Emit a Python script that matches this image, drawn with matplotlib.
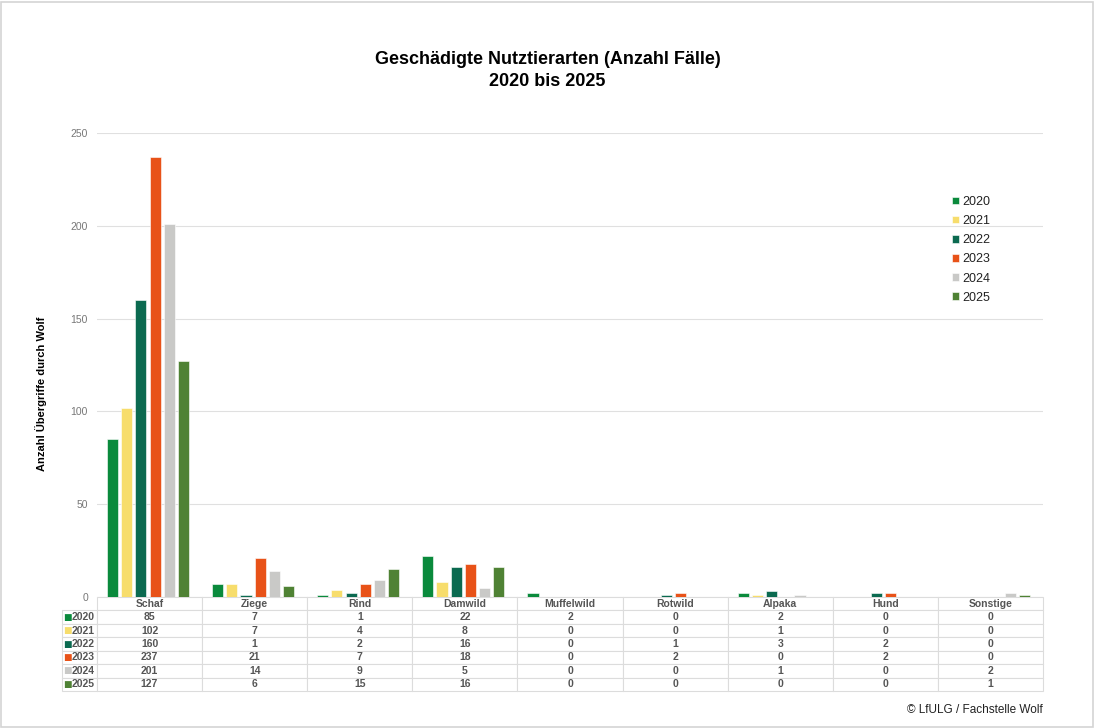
import numpy as np
import matplotlib.pyplot as plt
from matplotlib.patches import Rectangle

plt.rcParams['font.family'] = ['Liberation Sans', 'DejaVu Sans']

categories = ["Schaf", "Ziege", "Rind", "Damwild", "Muffelwild", "Rotwild", "Alpaka", "Hund", "Sonstige"]
years = ["2020", "2021", "2022", "2023", "2024", "2025"]
v2020 = [85, 7, 1, 22, 2, 0, 2, 0, 0]
v2021 = [102, 7, 4, 8, 0, 0, 1, 0, 0]
v2022 = [160, 1, 2, 16, 0, 1, 3, 2, 0]
v2023 = [237, 21, 7, 18, 0, 2, 0, 2, 0]
v2024 = [201, 14, 9, 5, 0, 0, 1, 0, 2]
v2025 = [127, 6, 15, 16, 0, 0, 0, 0, 1]
series = [v2020, v2021, v2022, v2023, v2024, v2025]
colors = ["#0a8a3c", "#f7dd6c", "#0b6a50", "#e85218", "#c9c9c7", "#4f8234"]

W, H = 1095, 728
fig = plt.figure(figsize=(W / 100, H / 100), dpi=100)
fig.patches.append(Rectangle((0.5 / W, 1.5 / H), 1 - 3 / W, 1 - 3 / H, transform=fig.transFigure,
                             fill=False, edgecolor="#d4d4d4", lw=1.2))

left, right, top, bottom = 97, 1043, 133, 597
ax = fig.add_axes([left / W, 1 - bottom / H, (right - left) / W, (bottom - top) / H])

x = np.arange(len(categories))
step = 0.135
bw = 0.106
for i, (yr, vals, c) in enumerate(zip(years, series, colors)):
    ax.bar(x + (i - 2.5) * step - 0.015, vals, width=bw, color=c, edgecolor="white", linewidth=0.4,
           label=yr, zorder=3)

ax.set_xlim(-0.5, len(categories) - 0.5)
ax.set_ylim(0, 250)
ax.set_yticks(range(0, 251, 50))
ax.tick_params(axis="y", length=0, labelsize=7.5, labelcolor="#777777", pad=6.5)
ax.set_xticks([])
ax.grid(axis="y", color="#e0e0e0", lw=0.8, zorder=0)
for s in ax.spines.values():
    s.set_visible(False)

leg = ax.legend(loc="upper left", bbox_to_anchor=((947 - left) / (right - left), (bottom - 191) / (bottom - top)),
                frameon=False, fontsize=9, handlelength=0.55, handleheight=0.55, handletextpad=0.3,
                labelspacing=0.57, borderaxespad=0)
for t in leg.get_texts():
    t.set_color("#222222")

# data table below
nrows = 7
tab_h = (691 - bottom) / (bottom - top)
lab_w = 35 / (right - left)
cell_text = [[str(v) for v in vals] for vals in series]
rows = [[""] + categories] + [[yr] + ct for yr, ct in zip(years, cell_text)]
col_w = [lab_w] + [1 / len(categories)] * len(categories)
tbl = ax.table(cellText=rows, colWidths=col_w, cellLoc="center",
               bbox=[-lab_w, -tab_h, 1 + lab_w, tab_h])
tbl.auto_set_font_size(False)
tbl.set_fontsize(7.5)
for (r, c), cell in tbl.get_celld().items():
    cell.set_edgecolor("#dcdcdc")
    cell.set_linewidth(0.8)
    cell.get_text().set_color("#555555")
    cell.get_text().set_fontweight("bold")
    if r == 0 and c == 0:
        cell.visible_edges = ""
    if c == 0 and r > 0:
        cell.get_text().set_ha("right")
        cell.PAD = 0.06

rh = tab_h / nrows
for i, c in enumerate(colors):
    ax.text(-lab_w + 5 / (right - left), -(i + 1.5) * rh, "■", color=c, fontsize=6.5,
            ha="center", va="center", transform=ax.transAxes, family="DejaVu Sans")

fig.text(0.5, 1 - 60 / H, "Geschädigte Nutztierarten (Anzahl Fälle)", ha="center", va="center",
         fontsize=13, fontweight="bold")
fig.text(0.5, 1 - 82 / H, "2020 bis 2025", ha="center", va="center", fontsize=13, fontweight="bold")
fig.text(41 / W, 1 - 394 / H, "Anzahl Übergriffe durch Wolf", rotation=90, ha="center", va="center",
         fontsize=8, fontweight="bold")
fig.text(1043 / W, 1 - 710 / H, "© LfULG / Fachstelle Wolf", ha="right", va="center", fontsize=8.5,
         color="#222222")

fig.savefig("out.png", dpi=100)
